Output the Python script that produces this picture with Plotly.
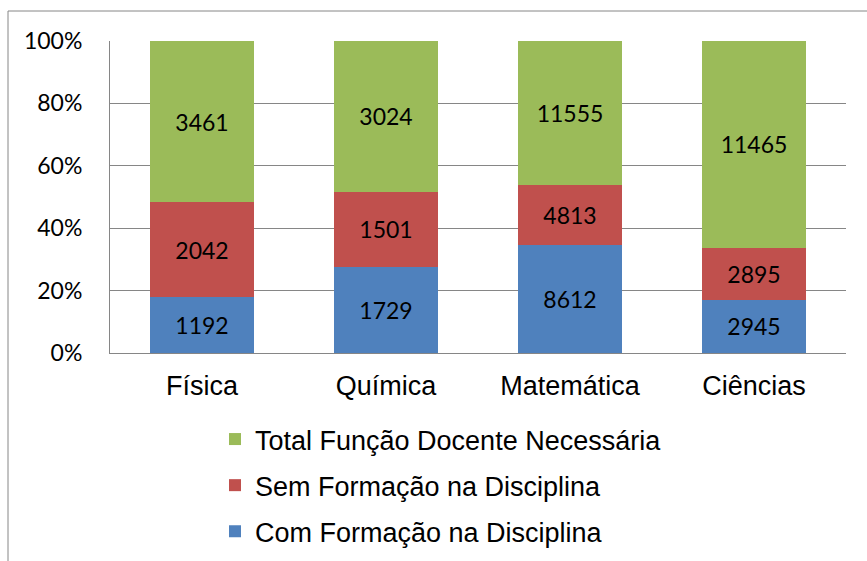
import plotly.graph_objects as go

categories = ["Física", "Química", "Matemática", "Ciências"]
com_formacao = [1192, 1729, 8612, 2945]
sem_formacao = [2042, 1501, 4813, 2895]
total_funcao = [3461, 3024, 11555, 11465]
y_ticks = [0, 20, 40, 60, 80, 100]
y_tick_labels = ["0%", "20%", "40%", "60%", "80%", "100%"]

series = [
    ("Com Formação na Disciplina", com_formacao, "#4F81BD", 3),
    ("Sem Formação na Disciplina", sem_formacao, "#C0504D", 2),
    ("Total Função Docente Necessária", total_funcao, "#9BBB59", 1),
]

fig = go.Figure()
for i, (name, vals, color, rank) in enumerate(series):
    fig.add_trace(go.Bar(
        x=categories, y=vals, name=name,
        marker=dict(color=color, line=dict(width=0)),
        text=[str(v) for v in vals], texttemplate="%{text}",
        textposition="inside", insidetextanchor="middle",
        textfont=dict(family="Lato, Carlito, sans-serif", size=23, color="#000000"),
        legendgroup=f"g{i}", legendrank=rank,
    ))

W, H = 867, 561
L, R, T, B = 110, 21, 41, 208
pw, ph = W - L - R, H - T - B

def px_x(p):
    return (p - L) / pw

def px_y(p):
    return (H - B - p) / ph

fig.update_layout(
    width=W, height=H,
    margin=dict(l=L, r=R, t=T, b=B, autoexpand=False),
    barmode="stack", barnorm="percent", bargap=0.435,
    plot_bgcolor="white", paper_bgcolor="white",
    uniformtext=dict(minsize=23, mode="show"),
    xaxis=dict(
        showline=True, linecolor="#868686", linewidth=1,
        tickfont=dict(family="Liberation Sans, Arial, sans-serif", size=27, color="#000"),
        ticks="", ticklabelstandoff=9,
    ),
    yaxis=dict(
        range=[0, 100], tickvals=y_ticks, ticktext=y_tick_labels,
        showgrid=True, gridcolor="#868686", gridwidth=1,
        showline=True, linecolor="#868686", linewidth=1,
        tickfont=dict(family="Lato, Carlito, sans-serif", size=23, color="#000"),
        ticks="", ticklabelstandoff=22, zeroline=False,
    ),
    legend=dict(
        orientation="v", x=px_x(215), xanchor="left",
        y=px_y(415), yanchor="top",
        traceorder="grouped", tracegroupgap=8,
        font=dict(family="Liberation Sans, Arial, sans-serif", size=27, color="#000"),
        bgcolor="rgba(0,0,0,0)",
    ),
    shapes=[
        dict(type="line", xref="paper", yref="paper",
             x0=px_x(8), x1=px_x(8), y0=px_y(11), y1=px_y(600),
             line=dict(color="#868686", width=1)),
        dict(type="line", xref="paper", yref="paper",
             x0=px_x(8), x1=px_x(900), y0=px_y(11), y1=px_y(11),
             line=dict(color="#868686", width=1)),
    ],
)

fig.write_html("out.html", config={"displayModeBar": False},
               post_script="document.body.style.margin='0';")
